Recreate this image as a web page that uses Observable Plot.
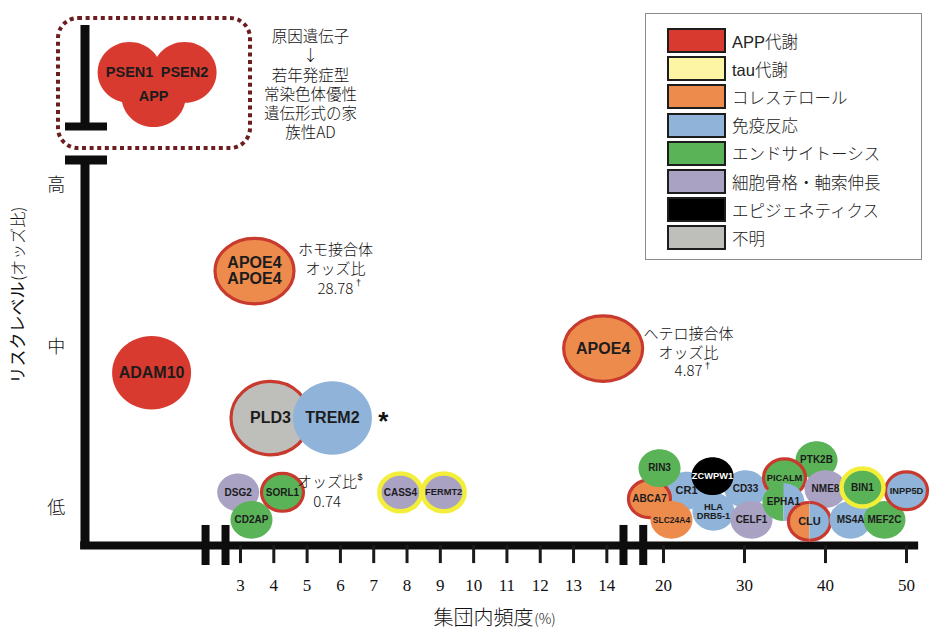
<!DOCTYPE html>
<html><head><meta charset="utf-8">
<script src="https://cdn.jsdelivr.net/npm/d3@7"></script>
<script src="https://cdn.jsdelivr.net/npm/@observablehq/plot@0.6"></script>
<style>
body{margin:0;background:#fff;}
#wrap{position:relative;width:936px;height:636px;overflow:hidden;}
#legend{position:absolute;left:645px;top:13px;width:277px;height:247px;border:1px solid #8a8a8a;box-sizing:border-box;background:#fff;}
.row{position:absolute;left:21px;height:25px;display:flex;align-items:center;}
.sw{width:59px;height:25px;border:2px solid #1d1d1d;box-sizing:border-box;}
.lb{margin-left:6px;font:300 16.5px "Liberation Sans","Noto Sans CJK JP",sans-serif;color:#222;white-space:nowrap;}
</style></head>
<body><div id="wrap"><div id="chart"></div><div id="legend"></div></div>
<script>
// ---- categories (legend) ----
const pathways = ["APP代謝","tau代謝","コレステロール","免疫反応","エンドサイトーシス","細胞骨格・軸索伸長","エピジェネティクス","不明"];
const pathwayColors = ["#d93a2f","#fdf5a3","#ed8b4d","#8fb3d9","#5bb357","#a9a2c3","#000000","#bebebb"];

// ---- genes (drawing order), frequency in population (%), risk level (1=低, 2=中, 3=高) ----
const genes = ["PSEN1","PSEN2","APP",
  "ADAM10","APOE4\nAPOE4","APOE4","PLD3","TREM2",
  "DSG2","CD2AP","SORL1","CASS4","FERMT2",
  "CR1","CD33","HLA\nDRB5-1","ABCA7","SLC24A4","RIN3","ZCWPW1","CELF1","PTK2B","PICALM","NME8","EPHA1","CLU","MS4A","MEF2C","INPP5D","BIN1"];
const freq = [-0.33, 1.32, 0.39,
  0.33, 3.42, 13.89, 3.90, 5.76,
  2.93, 3.33, 4.26, 7.80, 9.10,
  22.84, 30.12, 26.17, 18.27, 20.99, 19.51, 26.05, 30.86, 38.89, 34.94, 40.00, 34.81, 38.02, 43.09, 47.28, 50.00, 44.57];
const risk = [3.70, 3.70, 3.55,
  1.84, 2.47, 1.99, 1.56, 1.56,
  1.10, 0.93, 1.10, 1.10, 1.10,
  1.11, 1.12, 0.98, 1.06, 0.93, 1.25, 1.20, 0.93, 1.30, 1.19, 1.12, 1.04, 0.92, 0.93, 0.93, 1.11, 1.13];
const pathway = ["APP代謝","APP代謝","APP代謝",
  "APP代謝","コレステロール","コレステロール","不明","免疫反応",
  "細胞骨格・軸索伸長","エンドサイトーシス","エンドサイトーシス","細胞骨格・軸索伸長","細胞骨格・軸索伸長",
  "免疫反応","免疫反応","免疫反応","コレステロール","コレステロール","エンドサイトーシス","エピジェネティクス","細胞骨格・軸索伸長","エンドサイトーシス","エンドサイトーシス","細胞骨格・軸索伸長","エンドサイトーシス","コレステロール","免疫反応","エンドサイトーシス","免疫反応","エンドサイトーシス"];
// second pathway (half of the bubble)
const pathway2 = [null,null,null, null,null,null,null,null, null,null,null,null,null,
  null,null,null,null,null,null,null,null,null,null,null,"免疫反応","免疫反応",null,null,null,null];
// ring = additional pathway shown as outline
const ring = [null,null,null,
  null,"APP代謝","APP代謝","APP代謝",null,
  null,null,"APP代謝","tau代謝","tau代謝",
  null,null,null,"APP代謝",null,null,null,null,null,"APP代謝",null,null,"APP代謝",null,null,"APP代謝","tau代謝"];

// ---- axis ticks ----
const xTicks = [3,4,5,6,7,8,9,10,11,12,13,14,20,30,40,50];
const riskTicks = [1,2,3];
const riskNames = ["低","中","高"];

// ---- annotations ----
const notes = [
  {text:"原因遺伝子\n↓\n若年発症型\n常染色体優性\n遺伝形式の家\n族性AD", x:5.10, y:3.628, size:15.5, lh:1.24},
  {text:"ホモ接合体\nオッズ比\n28.78", x:5.85, y:2.49, size:15, lh:1.3},
  {text:"ヘテロ接合体\nオッズ比\n4.87", x:23.09, y:1.97, size:15, lh:1.22},
  {text:"オッズ比\n0.74", x:5.60, y:1.11, size:15, lh:1.3}
];
// superscript marks after the note lines
const supers = [
  {text:"†", x:5.85, y:2.49, dx:23, dy:15.5},
  {text:"†", x:23.09, y:1.97, dx:19, dy:14.5},
  {text:"$", x:5.60, y:1.11, dx:33, dy:-14}
];
const causalBox = [{x1:-2.465, x2:3.30, y1:3.229, y2:4.034}];
const axisBreaks = [1.95, 2.55, 14.5, 17.5];

const bubbles = genes.map((g,i)=>({gene:g, x:freq[i], y:risk[i], pathway:pathway[i], pathway2:pathway2[i], ring:ring[i]}));

// broken frequency axis: 14.5–17.5 compressed, >17.5 at a smaller unit
function pos(v){
  if (v <= 14.5) return v;
  if (v <= 17.5) return 14.5 + (v-14.5)*0.1977;
  return 15.093 + (v-17.5)*0.24324;
}

// ---- styling ----
const ringColor = {"APP代謝":"#c83a2e","tau代謝":"#f2ee3a"};
const ink = "#0d0d0d";
const jp = "'Noto Sans CJK JP','Noto Sans',sans-serif";
const latin = "'Liberation Sans',Arial,sans-serif";

function ellipseSymbol(aspect, side){
  return {draw(ctx, size){
    const rx = Math.sqrt(size/Math.PI), ry = rx*aspect, k = 0.5523;
    if (!side){
      ctx.moveTo(rx,0);
      ctx.bezierCurveTo(rx,ry*k,rx*k,ry,0,ry);
      ctx.bezierCurveTo(-rx*k,ry,-rx,ry*k,-rx,0);
      ctx.bezierCurveTo(-rx,-ry*k,-rx*k,-ry,0,-ry);
      ctx.bezierCurveTo(rx*k,-ry,rx,-ry*k,rx,0);
      ctx.closePath();
    } else if (side==="left"){
      ctx.moveTo(0,-ry);
      ctx.bezierCurveTo(-rx*k,-ry,-rx,-ry*k,-rx,0);
      ctx.bezierCurveTo(-rx,ry*k,-rx*k,ry,0,ry);
    } else {
      ctx.moveTo(0,-ry);
      ctx.bezierCurveTo(rx*k,-ry,rx,-ry*k,rx,0);
      ctx.bezierCurveTo(rx,ry*k,rx*k,ry,0,ry);
    }
  }};
}
function tier(b){
  if (b.y > 3.3) return {r:32, aspect:0.95, font:14.5};
  if (b.y > 1.4) return {r:39.5, aspect: b.gene.startsWith("APOE4") ? 0.83 : 0.93, font:16};
  const len = Math.max(...b.gene.split("\n").map(s=>s.length));
  return {r:21, aspect:0.9, font: len>=7 ? 8.5 : len===6 ? 9.3 : len===5 ? 10 : len===4 ? 10 : 11};
}

const bubbleMarks = bubbles.flatMap(b=>{
  const t = tier(b);
  const common = {x:d=>pos(d.x), y:"y", r:t.r,
    stroke: b.ring ? ringColor[b.ring] : "none",
    strokeWidth: b.ring==="tau代謝" ? 4.5 : 3.2};
  if (b.pathway2) return [
    Plot.dot([b], {...common, fill:"pathway", symbol:ellipseSymbol(t.aspect,"left")}),
    Plot.dot([b], {...common, fill:d=>d.pathway2, symbol:ellipseSymbol(t.aspect,"right")})
  ];
  return [Plot.dot([b], {...common, fill:"pathway", symbol:ellipseSymbol(t.aspect)})];
});

const chart = Plot.plot({
  width:936, height:636,
  style:{background:"white", overflow:"visible"},
  x:{domain:[-2, pos(52)], range:[73.5,922.2], axis:null},
  y:{domain:[0,4], range:[669.5,23.5], axis:null},
  color:{domain:pathways, range:pathwayColors},
  marks:[
    // causal gene box
    Plot.rect(causalBox, {x1:"x1", x2:"x2", y1:"y1", y2:"y2", rx:20, fill:"none", stroke:"#6b1d20", strokeWidth:4, strokeDasharray:"4 3.6"}),
    Plot.ruleX([-1.67], {y1:3.365, y2:3.991, stroke:ink, strokeWidth:9}),
    Plot.ruleY([3.365], {x1:-2.255, x2:-0.994, stroke:ink, strokeWidth:8}),
    // main axes
    Plot.ruleX([-1.67], {y1:0.746, y2:3.158, stroke:ink, strokeWidth:9}),
    Plot.ruleY([3.158], {x1:-2.255, x2:-0.994, stroke:ink, strokeWidth:9}),
    Plot.ruleY([0.771], {x1:-1.80, x2:pos(51.5), stroke:ink, strokeWidth:8}),
    Plot.ruleX(axisBreaks, {x:pos, y1:0.647, y2:0.895, stroke:ink, strokeWidth:8}),
    Plot.ruleX(xTicks, {x:pos, y1:0.771, y2:0.659, stroke:"#1a1a1a", strokeWidth:3}),
    Plot.text(xTicks, {x:pos, y:0.523, text:d=>String(d), fontSize:17, fontFamily:"'Liberation Serif','DejaVu Serif',serif", fill:"#111"}),
    Plot.text(riskTicks, {x:-2.53, y:d=>d, text:(d,i)=>riskNames[i], fontSize:18, fontWeight:300, fontFamily:jp, fill:"#111"}),
    Plot.text(["リスクレベル"], {x:-3.67, y:1.774, text:d=>d, rotate:-90, textAnchor:"start", fontSize:17, fontFamily:jp, fill:"#111"}),
    Plot.text(["(オッズ比)"], {x:-3.67, y:2.41, text:d=>d, rotate:-90, textAnchor:"start", fontSize:16, fontWeight:300, fontFamily:jp, fill:"#111"}),
    Plot.text(["集団内頻度"], {x:11.80, y:0.319, text:d=>d, textAnchor:"end", fontSize:20, fontWeight:300, fontFamily:jp, fill:"#111"}),
    Plot.text(["(%)"], {x:11.82, y:0.315, text:d=>d, textAnchor:"start", fontSize:14, fontWeight:300, fontFamily:jp, fill:"#111"}),
    // bubbles
    ...bubbleMarks,
    Plot.text(bubbles, {x:d=>pos(d.x), y:"y", text:"gene", fontWeight:"bold", fontFamily:latin, lineHeight:1.0,
      fontSize:b=>tier(b).font,
      fill:b=>b.pathway==="エピジェネティクス" ? "#ffffff" : "#1c1c1c"}),
    // annotations
    ...notes.map(n=>Plot.text([n], {x:d=>pos(d.x), y:"y", text:"text", fontSize:n.size, lineHeight:n.lh, fontWeight:300, fontFamily:jp, fill:"#111"})),
    ...supers.map(s=>Plot.text([s], {x:d=>pos(d.x), y:"y", text:"text", dx:s.dx, dy:s.dy, fontSize:9, fontFamily:latin, fill:"#111"})),
    Plot.text(["*"], {x:7.29, y:1.54, text:d=>d, fontSize:26, fontWeight:"bold", fontFamily:latin, fill:"#111"})
  ]
});
document.getElementById("chart").appendChild(chart);

// legend
const legend = document.getElementById("legend");
pathways.forEach((p,i)=>{
  const row = document.createElement("div");
  row.className = "row";
  row.style.top = (14 + i*28.2) + "px";
  const sw = document.createElement("div"); sw.className = "sw"; sw.style.background = pathwayColors[i];
  const lb = document.createElement("div"); lb.className = "lb"; lb.textContent = p;
  row.appendChild(sw); row.appendChild(lb); legend.appendChild(row);
});
</script>
</body></html>
